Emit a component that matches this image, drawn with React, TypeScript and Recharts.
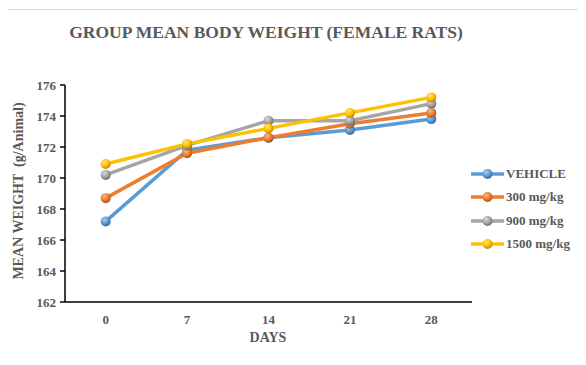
import React from "react";
import { LineChart, Line, XAxis, YAxis } from "recharts";

const days = ["0", "7", "14", "21", "28"];
const vehicle = [167.2, 171.8, 172.6, 173.1, 173.8];
const dose300 = [168.7, 171.6, 172.6, 173.5, 174.2];
const dose900 = [170.2, 172.1, 173.7, 173.7, 174.8];
const dose1500 = [170.9, 172.2, 173.2, 174.2, 175.2];
const yTicks = [162, 164, 166, 168, 170, 172, 174, 176];

const series = [
  { key: "vehicle", name: "VEHICLE", color: "#5B9BD5", light: "#a9cdf0", dark: "#2f6aa3" },
  { key: "dose300", name: "300 mg/kg", color: "#ED7D31", light: "#f8b98c", dark: "#a9501a" },
  { key: "dose900", name: "900 mg/kg", color: "#A5A5A5", light: "#d8d8d8", dark: "#6a6a6a" },
  { key: "dose1500", name: "1500 mg/kg", color: "#FFC000", light: "#ffe27a", dark: "#b88600" },
];

const data = days.map((day, i) => ({
  day,
  vehicle: vehicle[i],
  dose300: dose300[i],
  dose900: dose900[i],
  dose1500: dose1500[i],
}));

const FONT = "'Liberation Serif', 'Times New Roman', serif";
const TEXT = "#595959";

const Ball = (props: any) => {
  const { cx, cy, gradId } = props;
  if (cx == null || cy == null) return null;
  return <circle cx={cx} cy={cy} r={5} fill={`url(#${gradId})`} stroke="none" />;
};

// legend sits to the right of the plot, outside the chart svg
const SideLegend = () => (
  <div
    style={{
      position: "absolute",
      left: 471,
      top: 162,
      fontFamily: FONT,
      fontWeight: "bold",
      fontSize: 13,
      color: TEXT,
    }}
  >
    {series.map((s) => (
      <div key={s.key} style={{ display: "flex", alignItems: "center", height: 23.5 }}>
        <svg width={33} height={12} style={{ marginRight: 2 }}>
          <line x1={0} y1={6} x2={33} y2={6} stroke={s.color} strokeWidth={3.5} />
          <circle cx={16.5} cy={6} r={5} fill={`url(#grad-${s.key})`} />
        </svg>
        <span>{s.name}</span>
      </div>
    ))}
  </div>
);

export default function App() {
  return (
    <div style={{ position: "relative", width: 586, height: 365, margin: -8, overflow: "hidden", background: "#fff" }}>
      <div
        style={{
          position: "absolute",
          left: 5,
          top: 9,
          width: 620,
          height: 420,
          border: "1px solid #d9d9d9",
        }}
      />
      <div
        style={{
          position: "absolute",
          top: 22,
          left: 0,
          width: 532,
          textAlign: "center",
          whiteSpace: "nowrap",
          fontFamily: FONT,
          fontWeight: "bold",
          fontSize: 17.5,
          color: TEXT,
        }}
      >
        GROUP MEAN BODY WEIGHT (FEMALE RATS)
      </div>
      <div
        style={{
          position: "absolute",
          left: 19,
          top: 191,
          transform: "translate(-50%, -50%) rotate(-90deg)",
          whiteSpace: "pre",
          fontFamily: FONT,
          fontWeight: "bold",
          fontSize: 14,
          color: TEXT,
        }}
      >
        {"MEAN WEIGHT  (g/Animal)"}
      </div>
      <div
        style={{
          position: "absolute",
          left: 268,
          top: 330,
          transform: "translateX(-50%)",
          fontFamily: FONT,
          fontWeight: "bold",
          fontSize: 14,
          color: TEXT,
        }}
      >
        DAYS
      </div>
      <div style={{ position: "absolute", left: 0, top: 0 }}>
        <LineChart width={586} height={365} data={data} margin={{ top: 85, right: 114, bottom: 33, left: 0 }}>
          <defs>
            {series.map((s) => (
              <radialGradient key={s.key} id={`grad-${s.key}`} cx="38%" cy="32%" r="70%">
                <stop offset="0%" stopColor={s.light} />
                <stop offset="55%" stopColor={s.color} />
                <stop offset="100%" stopColor={s.dark} />
              </radialGradient>
            ))}
          </defs>
          <XAxis
            dataKey="day"
            height={30}
            padding={{ left: 40.7, right: 40.7 }}
            tickLine={false}
            axisLine={{ stroke: "#000", strokeWidth: 1.5 }}
            tick={{ fill: TEXT, fontFamily: FONT, fontWeight: "bold", fontSize: 13 }}
            tickMargin={7}
          />
          <YAxis
            width={65}
            domain={[162, 176]}
            ticks={yTicks}
            interval={0}
            axisLine={{ stroke: "#000", strokeWidth: 1.5 }}
            tickLine={{ stroke: "#000", strokeWidth: 1.5 }}
            tickSize={5}
            tick={{ fill: TEXT, fontFamily: FONT, fontWeight: "bold", fontSize: 13 }}
            tickMargin={4}
          />
          {series.map((s) => (
            <Line
              key={s.key}
              dataKey={s.key}
              name={s.name}
              stroke={s.color}
              strokeWidth={3.5}
              isAnimationActive={false}
              dot={(p: any) => <Ball key={`${s.key}-${p.index}`} {...p} gradId={`grad-${s.key}`} />}
              activeDot={false}
            />
          ))}
        </LineChart>
      </div>
      <SideLegend />
    </div>
  );
}
